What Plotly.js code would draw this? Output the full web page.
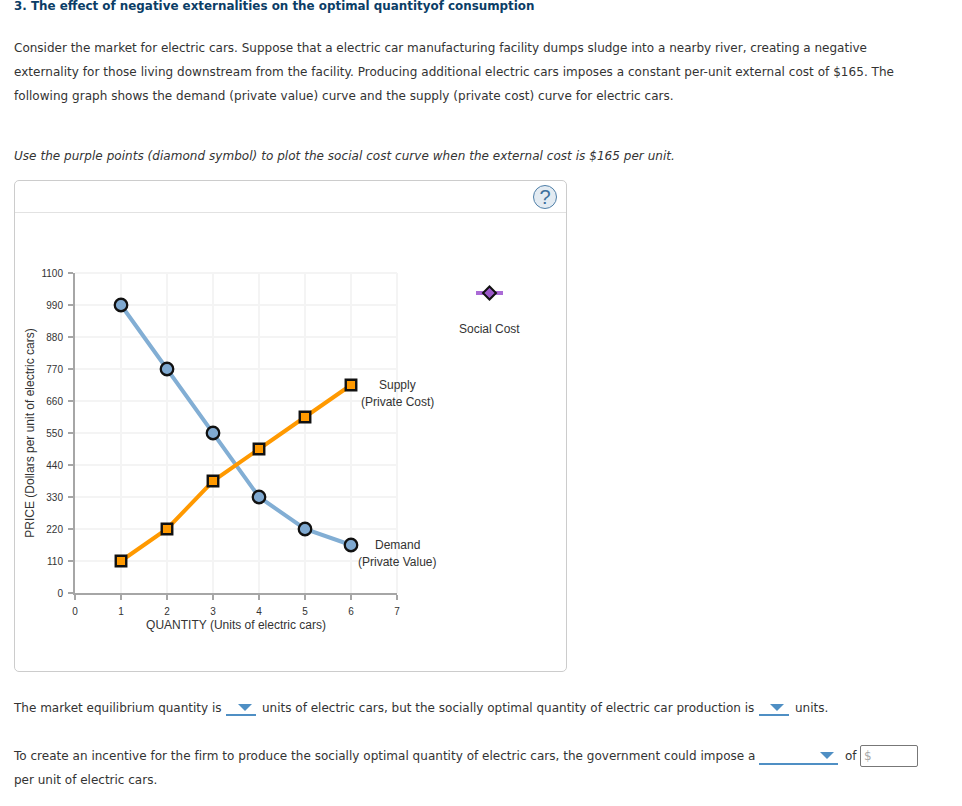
<!DOCTYPE html>
<html><head><meta charset="utf-8">
<script src="https://cdn.plot.ly/plotly-3.0.1.min.js"></script>
<style>
html,body{margin:0;padding:0;background:#fff;width:962px;height:806px;overflow:hidden}
.t{position:absolute;white-space:nowrap;font-family:"DejaVu Sans",sans-serif;font-size:12px;color:#333;line-height:16px}
#panel{position:absolute;left:14px;top:180px;width:551px;height:490px;border:1px solid #ccc;border-radius:5px;box-sizing:content-box}
#hdr{position:absolute;left:15px;top:212px;width:551px;height:1px;background:#e2e2e2}
#help{position:absolute;left:533px;top:185px;width:22px;height:22px;border:1.5px solid #4f7fa8;border-radius:50%;background:#e3ebf2;color:#3d6f9c;font:20px/22px "Liberation Sans",sans-serif;text-align:center}
.u{position:absolute;height:2px;background:#4f8fc4}
.tri{position:absolute;width:0;height:0;border-left:7px solid transparent;border-right:7px solid transparent;border-top:7px solid #4f8fc4}
#box{position:absolute;left:860px;top:745px;height:20px;border:1px solid #777;border-radius:2px;font:12px/20px "DejaVu Sans",sans-serif;color:#aaa;padding-left:3px;box-sizing:content-box;width:53px}
#chart{position:absolute;left:0;top:0;width:962px;height:806px}
</style></head><body>
<div id="panel"></div><div id="hdr"></div><div id="help">?</div>
<div id="chart"></div>
<div class="u" style="left:226px;top:714px;width:30px"></div><div class="tri" style="left:238px;top:704px"></div>
<div class="u" style="left:759px;top:714px;width:30px"></div><div class="tri" style="left:770px;top:704px"></div>
<div class="u" style="left:759px;top:763px;width:79px"></div><div class="tri" style="left:820px;top:752px"></div>
<div id="box">$</div>
<script>
var quantities=[1,2,3,4,5,6];
var demandValues=[990,770,550,330,220,165];
var supplyValues=[110,220,385,495,605,715];
var xTicks=[0,1,2,3,4,5,6,7];
var yTicks=[0,110,220,330,440,550,660,770,880,990,1100];
var paletteX=[0,0.5,1];
var paletteY=[0.5,0.5,0.5];
var paletteSymbols=["diamond"];
var pageText=[
 [14,0,"3. The effect of negative externalities on the optimal quantityof consumption","font-weight:bold;color:#0b3d66;line-height:13px;font-size:11.9px"],
 [14,40,"Consider the market for electric cars. Suppose that a electric car manufacturing facility dumps sludge into a nearby river, creating a negative",""],
 [14,64,"externality for those living downstream from the facility. Producing additional electric cars imposes a constant per-unit external cost of $165. The","letter-spacing:0.04px"],
 [14,88,"following graph shows the demand (private value) curve and the supply (private cost) curve for electric cars.","letter-spacing:0.03px"],
 [14,148,"Use the purple points (diamond symbol) to plot the social cost curve when the external cost is $165 per unit.","font-style:italic;letter-spacing:0.04px"],
 [14,700,"The market equilibrium quantity is",""],
 [262,700,"units of electric cars, but the socially optimal quantity of electric car production is",""],
 [795,700,"units.",""],
 [14,748,"To create an incentive for the firm to produce the socially optimal quantity of electric cars, the government could impose a","letter-spacing:0.02px"],
 [845,748,"of",""],
 [14,772,"per unit of electric cars.",""]
];
pageText.forEach(function(r){var d=document.createElement('div');d.className='t';d.style.cssText='left:'+r[0]+'px;top:'+r[1]+'px;'+r[3];d.textContent=r[2];document.body.appendChild(d);});

var W=962,H=806;
function fx(p){return p/W;} function fy(p){return 1-p/H;}
var font={family:'"Liberation Sans",Arial,sans-serif',size:12,color:'#333'};
function lab(x,y,t){return {xref:'paper',yref:'paper',x:fx(x),y:fy(y),text:t,showarrow:false,xanchor:'center',yanchor:'middle',font:font};}
var axisCommon={showline:true,linecolor:'#a6a6a6',linewidth:2,gridcolor:'#f4f4f4',gridwidth:2,zeroline:false,ticks:'outside',ticklen:5,tickcolor:'#a6a6a6',tickwidth:2,tickmode:'array',ticklabelstandoff:3,tickfont:{family:'"Liberation Sans",Arial,sans-serif',size:10,color:'#333'}};
var layout={width:W,height:H,margin:{l:0,r:0,t:0,b:0},paper_bgcolor:'rgba(0,0,0,0)',plot_bgcolor:'rgba(0,0,0,0)',showlegend:false,
 xaxis:Object.assign({},axisCommon,{domain:[fx(75),fx(397)],range:[0,7],tickvals:xTicks,ticktext:xTicks.map(String),anchor:'y',automargin:false,title:{text:'QUANTITY (Units of electric cars)',font:font,standoff:5}}),
 yaxis:Object.assign({},axisCommon,{domain:[fy(593),fy(273)],range:[0,1100],tickvals:yTicks,ticktext:yTicks.map(String),anchor:'x',automargin:false,title:{text:'PRICE (Dollars per unit of electric cars)',font:font,standoff:4}}),
 xaxis2:{domain:[fx(476),fx(503)],range:[0,1],visible:false,anchor:'y2',fixedrange:true},
 yaxis2:{domain:[fy(303),fy(283)],range:[0,1],visible:false,anchor:'x2',fixedrange:true},
 shapes:[
  {type:'line',layer:'below',xref:'x domain',yref:'y domain',x0:0,x1:1,y0:1,y1:1,line:{color:'#f4f4f4',width:2}},
  {type:'line',layer:'below',xref:'x domain',yref:'y domain',x0:1,x1:1,y0:0,y1:1,line:{color:'#f4f4f4',width:2}}
 ],
 annotations:[lab(397,385,'Supply'),lab(397,402,'(Private Cost)'),lab(397,545,'Demand'),lab(397,562,'(Private Value)'),lab(489,329,'Social Cost')]
};
var traces=[
 {x:quantities,y:demandValues,name:'Demand (Private Value)',mode:'lines+markers',cliponaxis:false,line:{color:'#82aed4',width:4},marker:{symbol:'circle',size:12.5,color:'#7fa9d1',line:{color:'#111',width:2.3}}},
 {x:quantities,y:supplyValues,name:'Supply (Private Cost)',mode:'lines+markers',cliponaxis:false,line:{color:'#ff9900',width:4},marker:{symbol:'square',size:10.5,color:'#ff9900',line:{color:'#111',width:2.4}}},
 {x:paletteX,y:paletteY,name:'Social Cost',xaxis:'x2',yaxis:'y2',mode:'lines',line:{color:'#ab6bd6',width:4}},
 {x:[paletteX[1]],y:[paletteY[1]],name:'Social Cost',xaxis:'x2',yaxis:'y2',mode:'markers',marker:{symbol:paletteSymbols[0],size:10,color:'#9b59c8',line:{color:'#111',width:2}}}
];
Plotly.newPlot('chart',traces,layout,{displayModeBar:false,staticPlot:true});
</script>
</body></html>
